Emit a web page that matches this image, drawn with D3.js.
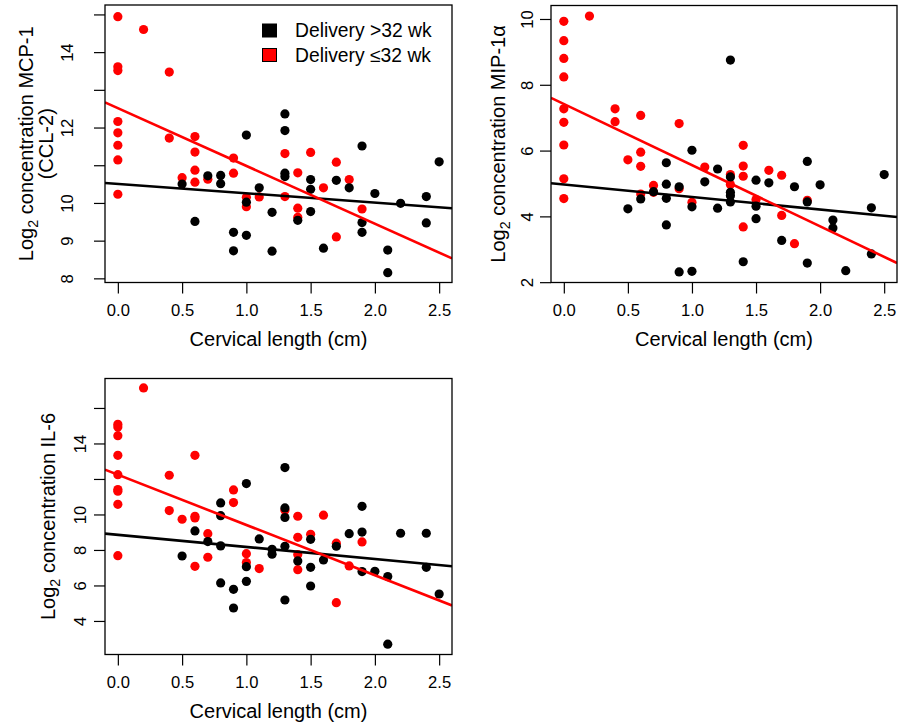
<!DOCTYPE html>
<html>
<head>
<meta charset="utf-8">
<script src="https://cdn.jsdelivr.net/npm/d3@7"></script>
<style>
  html, body { margin: 0; padding: 0; background: #fff; }
  svg { display: block; }
  text { font-family: "Liberation Sans", Arial, Helvetica, sans-serif; fill: #000; }
</style>
</head>
<body>
<svg id="chart" width="906" height="724"></svg>
<script>
// ---------- Data ----------
// Panel A: MCP-1 (CCL-2)
const mcpRedX = [0,0,0,0,0,0,0,0, 0.2, 0.4,0.4, 0.5, 0.6,0.6,0.6,0.6, 0.7, 0.9,0.9, 1.0,1.0, 1.1, 1.3,1.3, 1.4,1.4,1.4, 1.5, 1.6, 1.7,1.7, 1.8, 1.9];
const mcpRedY = [14.94,13.61,13.51,12.16,11.86,11.53,11.14,10.23, 14.60, 13.47,11.72, 10.67, 11.76,11.35,10.87,10.55, 10.63, 11.19,10.79, 10.15,9.90, 10.16, 11.31,10.17, 10.80,9.86,9.62, 11.34, 10.40, 11.08,9.10, 10.62, 9.84];
const mcpBlackX = [0.5, 0.6, 0.7, 0.8,0.8, 0.9,0.9, 1.0,1.0,1.0, 1.1, 1.2,1.2, 1.3,1.3,1.3,1.3, 1.4, 1.5,1.5,1.5, 1.6, 1.7, 1.8, 1.9,1.9,1.9, 2.0, 2.1,2.1, 2.2, 2.4,2.4, 2.5];
const mcpBlackY = [10.50, 9.51, 10.72, 10.73,10.51, 9.22,8.73, 11.80,10.02,9.14, 10.40, 9.75,8.72, 12.36,11.92,10.79,10.70, 9.54, 10.62,10.36,9.77, 8.80, 10.60, 10.40, 11.51,9.48,9.22, 10.25, 8.75,8.15, 9.99, 10.17,9.47, 11.09];
const mcpFitBlack = [10.505, -0.248];   // intercept, slope
const mcpFitRed = [12.515, -1.533];
const mcpYTicks = [8, 9, 10, 11, 12, 13, 14, 15];
const mcpYLabels = [8, 9, 10, 12, 14];

// Panel B: MIP-1alpha
const mipRedX = [0,0,0,0,0,0,0,0,0, 0.2, 0.4,0.4, 0.5, 0.6,0.6,0.6,0.6, 0.7,0.7, 0.9,0.9, 1.0, 1.1, 1.3,1.3, 1.4,1.4,1.4,1.4, 1.5, 1.6, 1.7,1.7, 1.8, 1.9];
const mipRedY = [9.93,9.34,8.80,8.24,7.27,6.86,6.17,5.14,4.54, 10.09, 7.27,6.88, 5.72, 7.07,5.95,5.52,4.68, 4.94,4.73, 6.82,4.84, 4.43, 5.50, 5.27,4.97, 6.16,5.53,5.22,3.68, 4.51, 5.40, 5.25,4.03, 3.17, 4.49];
const mipBlackX = [0.5, 0.6, 0.7, 0.8,0.8,0.8,0.8, 0.9,0.9, 1.0,1.0,1.0, 1.1, 1.2,1.2, 1.3,1.3,1.3,1.3,1.3, 1.4, 1.5,1.5,1.5, 1.6, 1.7, 1.8, 1.9,1.9,1.9, 2.0, 2.1,2.1, 2.2, 2.4,2.4, 2.5];
const mipBlackY = [4.23, 4.53, 4.75, 5.63,4.98,4.55,3.74, 4.90,2.31, 6.01,4.29,2.33, 5.05, 5.44,4.25, 8.75,5.20,4.73,4.63,4.44, 2.62, 5.10,4.31,3.93, 5.02, 3.27, 4.90, 5.67,4.44,2.58, 4.96, 3.89,3.65, 2.35, 4.26,2.86, 5.27];
const mipFitBlack = [4.97, -0.381];
const mipFitRed = [7.416, -1.859];
const mipYTicks = [2, 4, 6, 8, 10];
const mipYLabels = [2, 4, 6, 8, 10];

// Panel C: IL-6
const il6RedX = [0,0,0,0,0,0,0,0,0, 0.2, 0.4,0.4, 0.5, 0.6,0.6,0.6,0.6, 0.7,0.7, 0.9,0.9, 1.0,1.0, 1.1, 1.3, 1.4,1.4,1.4,1.4, 1.5, 1.6, 1.7,1.7, 1.8, 1.9];
const il6RedY = [15.08,14.93,14.44,13.33,12.24,11.40,11.31,10.57,7.68, 17.13, 12.21,10.22, 9.73, 13.33,9.90,9.80,7.08, 8.92,7.59, 11.38,10.67, 7.79,7.29, 6.95, 10.24, 9.90,8.71,7.74,6.89, 8.88, 9.96, 8.38,5.03, 7.10, 8.45];
const il6BlackX = [0.5, 0.6, 0.7, 0.8,0.8,0.8,0.8, 0.9,0.9, 1.0,1.0,1.0, 1.1, 1.2,1.2, 1.3,1.3,1.3,1.3,1.3, 1.4, 1.5,1.5,1.5, 1.6, 1.7, 1.8, 1.9,1.9,1.9, 2.0, 2.1,2.1, 2.2, 2.4,2.4, 2.5];
const il6BlackY = [7.66, 9.07, 8.47, 10.65,9.93,8.23,6.14, 5.78,4.73, 11.74,7.06,6.23, 8.62, 8.04,7.76, 12.64,10.37,9.83,8.21,5.18, 7.38, 8.60,7.02,5.97, 7.44, 8.21, 8.92, 10.46,9.01,6.78, 6.80, 6.50,2.69, 8.94, 8.94,7.02, 5.52];
const il6FitBlack = [8.85, -0.681];
const il6FitRed = [12.24, -2.833];
const il6YTicks = [4, 6, 8, 10, 12, 14, 16];
const il6YLabels = [4, 6, 8, 10, 14];

const xTicks = [0, 0.5, 1.0, 1.5, 2.0, 2.5];
const xTitle = "Cervical length (cm)";
const legendLabels = ["Delivery >32 wk", "Delivery \u226432 wk"];
const legendColors = ["#000000", "#ff0000"];

// ---------- Layout ----------
const svg = d3.select("#chart");
const FONT_TICK = 16.6, FONT_TITLE = 20, FONT_LEG = 19.3;

const panels = [
  { redX: mcpRedX, redY: mcpRedY, blackX: mcpBlackX, blackY: mcpBlackY, fitB: mcpFitBlack, fitR: mcpFitRed,
    yTicks: mcpYTicks, yLabels: mcpYLabels, yDomain: [7.89, 15.25],
    box: { l: 105, r: 452, t: 5, b: 282.5 }, tickLabelX: 67,
    titleLines: [{ x: 26, parts: ["Log", "2", " concentration MCP-1"] }, { x: 46, parts: ["(CCL-2)"] }],
    legend: true },
  { redX: mipRedX, redY: mipRedY, blackX: mipBlackX, blackY: mipBlackY, fitB: mipFitBlack, fitR: mipFitRed,
    yTicks: mipYTicks, yLabels: mipYLabels, yDomain: [1.99, 10.41],
    box: { l: 551, r: 897, t: 5.5, b: 282.5 }, tickLabelX: 527,
    titleLines: [{ x: 498, parts: ["Log", "2", " concentration MIP-1\u03b1"] }],
    legend: false },
  { redX: il6RedX, redY: il6RedY, blackX: il6BlackX, blackY: il6BlackY, fitB: il6FitBlack, fitR: il6FitRed,
    yTicks: il6YTicks, yLabels: il6YLabels, yDomain: [2.11, 17.66],
    box: { l: 105, r: 452, t: 378.5, b: 654.5 }, tickLabelX: 80,
    titleLines: [{ x: 48, parts: ["Log", "2", " concentration IL-6"] }],
    legend: false }
];

panels.forEach((p, i) => {
  const { l, r, t, b } = p.box;
  const x = d3.scaleLinear().domain([-0.1, 2.6]).range([l, r]);
  const y = d3.scaleLinear().domain(p.yDomain).range([b, t]);
  const g = svg.append("g");

  const clipId = "clip" + i;
  svg.append("defs").append("clipPath").attr("id", clipId)
    .append("rect").attr("x", l).attr("y", t).attr("width", r - l).attr("height", b - t);

  const plot = g.append("g").attr("clip-path", `url(#${clipId})`);

  // points: red first, black on top
  plot.selectAll("circle.red").data(p.redX.map((v, k) => [v, p.redY[k]])).join("circle")
    .attr("class", "red").attr("cx", d => x(d[0])).attr("cy", d => y(d[1])).attr("r", 4.6)
    .attr("fill", "#ff0000");
  plot.selectAll("circle.blk").data(p.blackX.map((v, k) => [v, p.blackY[k]])).join("circle")
    .attr("class", "blk").attr("cx", d => x(d[0])).attr("cy", d => y(d[1])).attr("r", 4.6)
    .attr("fill", "#000000");

  // regression lines
  const xs = x.domain();
  [[p.fitB, "#000000"], [p.fitR, "#ff0000"]].forEach(([fit, col]) => {
    plot.append("line")
      .attr("x1", x(xs[0])).attr("y1", y(fit[0] + fit[1] * xs[0]))
      .attr("x2", x(xs[1])).attr("y2", y(fit[0] + fit[1] * xs[1]))
      .attr("stroke", col).attr("stroke-width", 2.6);
  });

  // box
  g.append("rect").attr("x", l).attr("y", t).attr("width", r - l).attr("height", b - t)
    .attr("fill", "none").attr("stroke", "#000").attr("stroke-width", 1.3);

  // x axis
  const xAxis = g.append("g").attr("transform", `translate(0,${b})`)
    .call(d3.axisBottom(x).tickValues(xTicks).tickFormat(d3.format(".1f")).tickSize(11).tickSizeOuter(0));
  xAxis.select(".domain").remove();
  xAxis.selectAll(".tick line").attr("stroke", "#000").attr("stroke-width", 1.2);
  xAxis.selectAll(".tick text").attr("y", 28).attr("dy", "0.35em")
    .attr("font-size", FONT_TICK).attr("font-family", '"Liberation Sans", Arial, sans-serif').attr("fill", "#000");

  // y axis
  const yAxis = g.append("g").attr("transform", `translate(${l},0)`)
    .call(d3.axisLeft(y).tickValues(p.yTicks)
      .tickFormat(d => p.yLabels.includes(d) ? String(d) : "").tickSize(11).tickSizeOuter(0));
  yAxis.select(".domain").remove();
  yAxis.selectAll(".tick line").attr("stroke", "#000").attr("stroke-width", 1.2);
  yAxis.selectAll(".tick text")
    .attr("x", null).attr("dy", null)
    .attr("transform", `translate(${p.tickLabelX - l},0) rotate(-90)`)
    .attr("text-anchor", "middle").attr("dy", "0.35em")
    .attr("font-size", FONT_TICK).attr("font-family", '"Liberation Sans", Arial, sans-serif').attr("fill", "#000");

  // x title
  g.append("text").attr("x", (l + r) / 2).attr("y", b + 56).attr("dy", "0.35em")
    .attr("text-anchor", "middle").attr("font-size", FONT_TITLE).text(xTitle);

  // y title (rotated, with subscript)
  const cy = (t + b) / 2;
  p.titleLines.forEach(line => {
    const tx = g.append("text").attr("transform", `translate(${line.x},${cy}) rotate(-90)`)
      .attr("text-anchor", "middle").attr("dy", "0.35em").attr("font-size", FONT_TITLE);
    if (line.parts.length === 1) {
      tx.text(line.parts[0]);
    } else {
      tx.append("tspan").text(line.parts[0]);
      tx.append("tspan").attr("font-size", FONT_TITLE * 0.72).attr("dy", "0.35em").text(line.parts[1]);
      tx.append("tspan").attr("dy", "-0.25em").text(line.parts[2]);
    }
  });

  // legend
  if (p.legend) {
    const lg = g.append("g");
    legendLabels.forEach((lab, k) => {
      const cyL = 30.5 + k * 24.5;
      lg.append("rect").attr("x", 262.5).attr("y", cyL - 6.5).attr("width", 14).attr("height", 13)
        .attr("fill", legendColors[k]).attr("stroke", "#000").attr("stroke-width", 1);
      lg.append("text").attr("x", 295).attr("y", cyL).attr("dy", "0.35em")
        .attr("font-size", FONT_LEG).text(lab);
    });
  }
});
</script>
</body>
</html>
